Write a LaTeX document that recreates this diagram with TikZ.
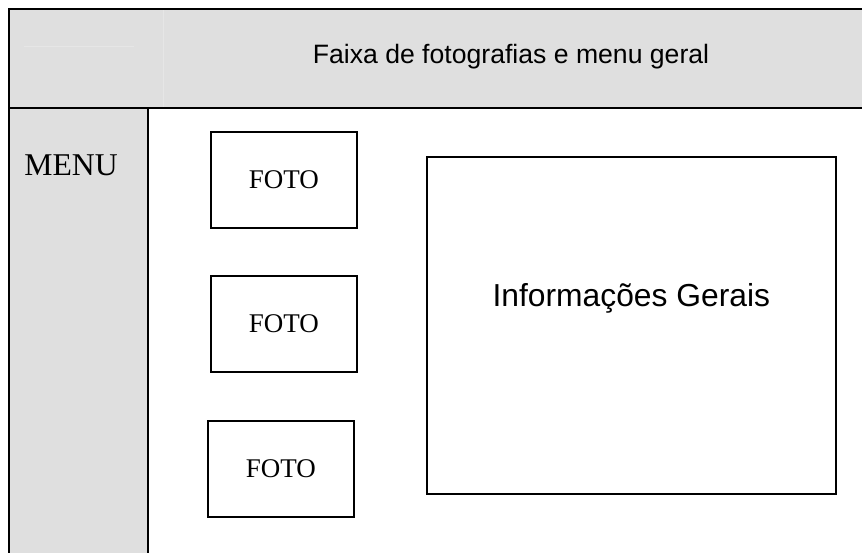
\documentclass[tikz,border=0pt]{standalone}
\usepackage{fontspec}
\setmainfont{Liberation Serif}
\setsansfont{Liberation Sans}
\usepackage{xcolor}
\definecolor{bandgray}{HTML}{DFDFDF}
\definecolor{faintline}{HTML}{E6E6E6}
\tikzset{
    fotobox/.style={draw, line width=1.6pt, anchor=north west, inner sep=0pt,
        minimum width=146pt, minimum height=96pt, font=\fontsize{27}{30}\selectfont},
    infobox/.style={draw, line width=1.6pt, anchor=north west, inner sep=0pt,
        minimum width=409pt, minimum height=337pt},
    sanslabel/.style={font=\sffamily\fontsize{#1}{#1}\selectfont, inner sep=0pt},
}

\begin{document}
\begin{tikzpicture}[x=1pt, y=-1pt]
    \useasboundingbox (0,0) rectangle (862,552);
    % faixa e coluna do menu
    \fill[bandgray] (9,9) rectangle (870,108);
    \fill[bandgray] (9,108) rectangle (148,560);
    \draw[faintline, line width=0.8pt] (24,46) -- (134,46);
    \draw[faintline, line width=0.8pt] (163,9) -- (163,108);
    \draw[line width=2pt] (870,9) -- (9,9) -- (9,560);
    \draw[line width=2pt] (9,108) -- (870,108);
    \draw[line width=2pt] (148,108) -- (148,560);

    \node[sanslabel=26.6] (faixa) at (511,57) {Faixa de fotografias e menu geral};
    \node[font=\fontsize{31.7}{34}\selectfont, inner sep=0pt] (menu) at (71,165) {MENU};

    \node[fotobox] (foto1) at (210,131) {FOTO};
    \node[fotobox] (foto2) at (210,275) {FOTO};
    \node[fotobox] (foto3) at (207,420) {FOTO};

    \node[infobox] (info) at (426,156) {};
    \node[sanslabel=31.8] (infotext) at ([yshift=27pt]info.center) {Informações Gerais};
\end{tikzpicture}
\end{document}
